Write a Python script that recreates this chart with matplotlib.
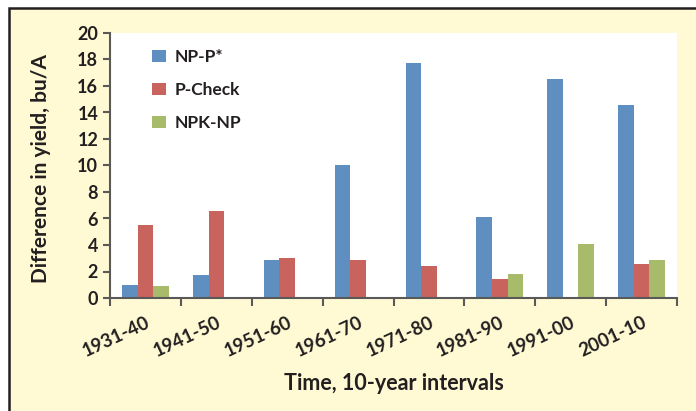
import matplotlib
matplotlib.use('Agg')
import matplotlib.pyplot as plt
from matplotlib.patches import Rectangle
import matplotlib.transforms as mtransforms
import numpy as np

# ── Dados ────────────────────────────────────────────────────────────────
periodos = ['1931-40', '1941-50', '1951-60', '1961-70',
            '1971-80', '1981-90', '1991-00', '2001-10']
np_p = [1.0, 1.7, 2.9, 10.0, 17.7, 6.1, 16.5, 14.6]
p_check = [5.5, 6.6, 3.0, 2.85, 2.4, 1.4, np.nan, 2.55]
npk_np = [0.9, np.nan, np.nan, np.nan, np.nan, 1.8, 4.05, 2.85]

series = [('NP-P*', np_p, '#5f8fc0'),
          ('P-Check', p_check, '#c8635e'),
          ('NPK-NP', npk_np, '#a7bb6a')]

plt.rcParams['font.family'] = ['Lato', 'DejaVu Sans']
TXT = '#231f20'

W, H = 696, 411
fig = plt.figure(figsize=(W / 100, H / 100), dpi=100)
fig.patch.set_facecolor('white')

# caixa amarela com borda preta
fig.add_artist(Rectangle((9 / W, -0.05), 1.1, (H - 8.5) / H + 0.05,
                         transform=fig.transFigure, facecolor='#fffad4',
                         edgecolor='#231f20', linewidth=1.8, zorder=0))

ax = fig.add_axes([110 / W, 1 - 298 / H, 567 / W, 265 / H])
ax.set_facecolor('white')

x = np.arange(len(periodos))
w = 0.22
for i, (nome, vals, cor) in enumerate(series):
    ax.bar(x + (i - 1) * w, vals, width=w, color=cor, label=nome, zorder=2)

ax.set_xlim(-0.5, len(periodos) - 0.5)
ax.set_ylim(0, 20)
ax.set_yticks(range(0, 21, 2))
ax.set_xticks(np.arange(-0.5, len(periodos), 1.0), minor=False)
ax.set_xticklabels([])
ax.set_xticks(x, minor=True)
ax.set_xticklabels(periodos, minor=True, rotation=25, ha='right',
                   rotation_mode='anchor', fontsize=13.5, fontweight='bold',
                   color=TXT)
desloc = mtransforms.ScaledTranslation(6 / 100, 0, fig.dpi_scale_trans)
for t in ax.get_xticklabels(minor=True):
    t.set_transform(t.get_transform() + desloc)
ax.tick_params(axis='x', which='minor', length=0, pad=11)
ax.tick_params(axis='x', which='major', length=6, width=1.5, color='#595959')
ax.tick_params(axis='y', length=5, width=1.5, color='#595959',
               labelsize=13, labelcolor=TXT)
for t in ax.get_yticklabels():
    t.set_fontweight('bold')

for s in ['top', 'right']:
    ax.spines[s].set_visible(False)
for s in ['left', 'bottom']:
    ax.spines[s].set_color('#595959')
    ax.spines[s].set_linewidth(1.5)

ax.set_ylabel('Difference in yield, bu/A', fontsize=15, fontweight='bold',
              color=TXT)
ax.yaxis.set_label_coords((41 - 110) / 567, 0.49)
ax.yaxis.label.set_verticalalignment('center')
ax.set_xlabel('Time, 10-year intervals', fontsize=15.5, fontweight='bold',
              color=TXT)
ax.xaxis.set_label_coords(0.5, (298 - 383) / 265)
ax.xaxis.label.set_verticalalignment('center')

leg = ax.legend(loc='upper left', bbox_to_anchor=(0.055, 0.98), frameon=False,
                fontsize=12.5, labelspacing=1.0, handlelength=0.85,
                handleheight=0.7, handletextpad=0.5, borderaxespad=0.2)
for t in leg.get_texts():
    t.set_fontweight('bold')
    t.set_color(TXT)

plt.savefig('out.png', dpi=100)
plt.close()
